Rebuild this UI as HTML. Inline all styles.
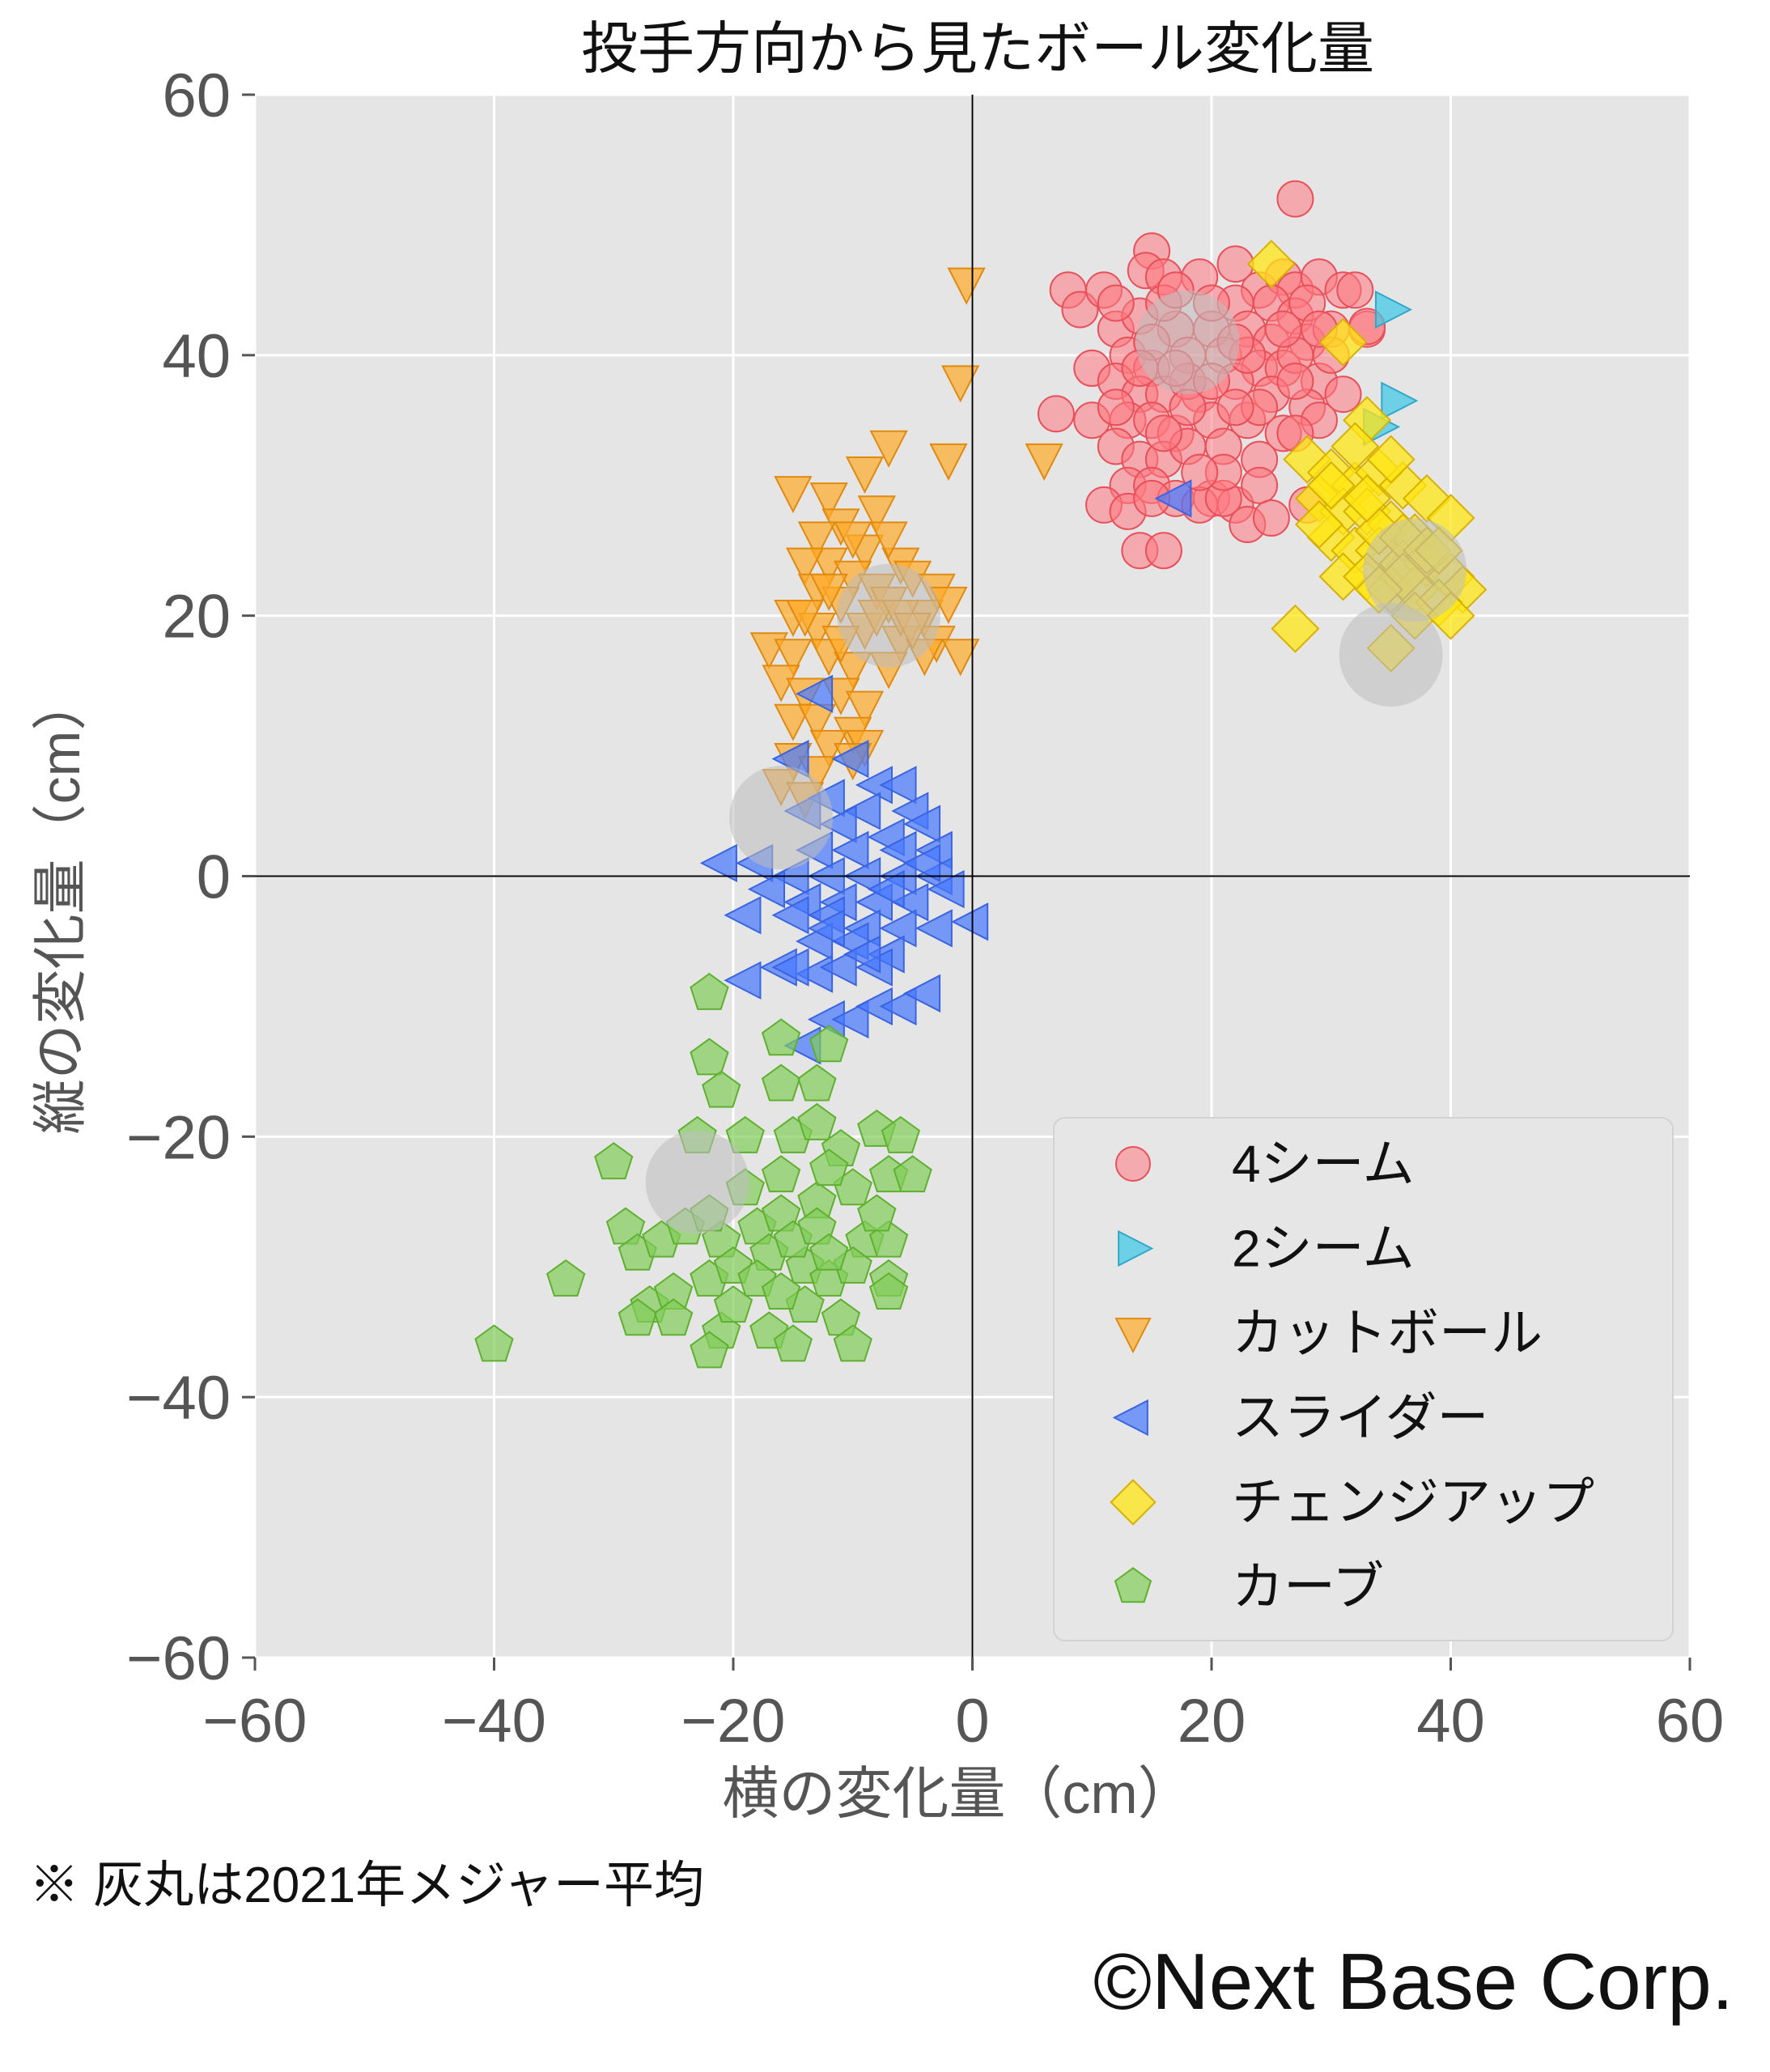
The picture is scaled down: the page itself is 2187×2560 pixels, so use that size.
<!DOCTYPE html>
<html><head><meta charset="utf-8">
<style>
body{margin:0;background:#fff;}
svg{display:block;}
</style></head>
<body>
<svg id="chart" width="2187" height="2560" viewBox="0 0 2187 2560" xmlns="http://www.w3.org/2000/svg" font-family="'Liberation Sans','Noto Sans CJK JP',sans-serif">
<rect width="2187" height="2560" fill="#fff"/>
<rect x="315" y="117" width="1773" height="1931" fill="#e5e5e5"/>
<g id="grid"></g>
<g id="ticks"></g>
<g id="avg"></g>
<g id="marks"></g>
<g id="zero"></g>
<text x="1208" y="84" font-size="70" text-anchor="middle" fill="#111">投手方向から見たボール変化量</text>
<text x="1184" y="2240" font-size="70" text-anchor="middle" fill="#555">横の変化量（cm）</text>
<text transform="translate(98,1118) rotate(-90)" font-size="68" text-anchor="middle" fill="#555">縦の変化量（cm）</text>
<g id="legend">
<rect x="1302" y="1381" width="765" height="646" rx="14" fill="#e6e6e6" stroke="#d2d2d2" stroke-width="2"/>
</g>
<text x="36" y="2350" font-size="62" fill="#111">※ 灰丸は2021年メジャー平均</text>
<text x="2142" y="2482" font-size="98" text-anchor="end" fill="#111">©Next Base Corp.</text>
</svg>
<script>
const xTicks=[-60,-40,-20,0,20,40,60];
const yTicks=[-60,-40,-20,0,20,40,60];
const seriesNames=["4シーム","2シーム","カットボール","スライダー","チェンジアップ","カーブ"];
const fourSeamX=[27,8,9,11,15,14.5,16,19,22,24,26,27,29,31,32,33,22,25,27,12,14,17,20,23,25,28,30,10,13,15,18,21,24,26,29,12,14,16,19,22,25,28,7,10,13,15,17,20,23,26,29,12,14,16,18,21,24,27,13,15,17,20,22,24,11,13,15,19,21,23,25,28,14,16,21,19,12,30,31,27,18,23,26,28,20,16,18,15,17,24,22,27,29,33,16,20,22,14,17,12];
const fourSeamY=[52,45,43.5,45,48,46.5,46,46,47,45,46,45,46,45,45,42,44,44,43,42,43,42,42,42,41,41,42,39,40,39,40,40,39,39,38,38,37,37,37,38,37,36,35.5,35,35,35,34,35,35,34,35,33,32,32,33,33,32,34,30,30,29,29,28.5,30,28.5,28,29,28.5,29,27,27.5,28.5,25,25,31,31,36,40,37,40,38,40,42,44,44,44,36,41,39,36,36,38,42,42.2,34,38,41,39,45,44];
const twoSeamX=[35,35.5,34];
const twoSeamY=[43.5,36.5,34.5];
const cutterX=[-0.5,-1,-2,6,-7,-9,-15,-12,-11,-13,-8,-6,-9,-12,-14,-10,-8,-5,-3,-13,-11,-7,-4,-2,-15,-13,-9,-6,-3,-1,-17,-15,-12,-10,-7,-16,-14,-11,-9,-15,-13,-10,-12,-15,-13,-16,-14,-9,-10,-11,-8,-6,-4,-5,-14,-12,-10,-7];
const cutterY=[45.5,38,32,32,33,31,29.5,29,27,26,28,24,25,24,24,23,22,23,22,22,21,21,20,21,20,19,19,18,18,17,17.5,17,17,16,16,15,14,14,13,12,12,11,10,9,8,7,6,10,9,18,20,20,17,19,20,22,26,26];
const sliderX=[-10,-15,-8,-6,-12,-14,-9,-5,-4,-11,-7,-13,-10,-6,-3,-21,-18,-15,-12,-9,-6,-3,-17,-14,-11,-8,-5,-2,-19,-15,-12,-9,-6,-3,0,-13,-10,-7,-16,-13,-11,-8,-19,-15,-12,-10,-8,-6,-4,-14,-12,-9,-7,-4,-13,17];
const sliderY=[9,9,7,7,6,5,5,5,4,4,3,2,2,2,2,1,1,0,0,0,0,0,-1,-2,-2,-2,-2,-1,-3,-3,-3,-4,-4,-4,-3.5,-5,-5,-6,-7,-7.5,-7,-7,-8,-7,-11,-11,-10,-10,-9,-13,-4,-6,-1,1,14,29];
const changeupX=[25,31,33,28,30,32,34,36,38,29,31,33,35,37,40,30,32,34,36,38,40,31,33,35,37,41,39,27,35,37,40,34,36,29,32,35,38,36,30,33,39,34];
const changeupY=[47,41,35,32,31,30,31,30,29,29,28,28,27,26,27.5,26,25,25,24,24,23,23,23,22,22,22,21,19,17.5,20,20,26.5,26,27,33,32,25,23,30,29,25,22];
const curveX=[-22,-22,-21,-16,-16,-12,-13,-30,-23,-19,-15,-13,-11,-8,-6,-29,-28,-26,-24,-21,-18,-16,-13,-10,-7,-5,-34,-27,-25,-22,-20,-17,-14,-12,-9,-7,-40,-28,-25,-21,-17,-14,-11,-7,-7,-22,-15,-10,-19,-16,-12,-22,-18,-15,-13,-10,-20,-12,-16,-8];
const curveY=[-9,-14,-16.5,-12.5,-16,-13,-16,-22,-20,-20,-20,-19,-21,-19.5,-20,-27,-29,-28,-27,-28,-27,-26,-25,-24,-23,-23,-31,-33,-32,-31,-30,-29,-30,-31,-28,-28,-36,-34,-34,-35,-35,-33,-34,-31,-32,-36.5,-36,-36,-24,-23,-22.5,-26,-31,-28,-27,-30,-33,-29,-32,-26];
const avgX=[18,-7,-16,37,35,-23];
const avgY=[41,20,4.5,23.5,17,-23.5];

const NS="http://www.w3.org/2000/svg";
const L=315,R=2088,T=117,B=2048;
function sx(v){return L+(v+60)/120*(R-L);}
function sy(v){return B-(v+60)/120*(B-T);}
function mk(tag,attrs,parent){const e=document.createElementNS(NS,tag);for(const k in attrs)e.setAttribute(k,attrs[k]);parent.appendChild(e);return e;}
const grid=document.getElementById('grid'),ticks=document.getElementById('ticks');
xTicks.forEach(v=>{
  const g=mk('line',{x1:sx(v),x2:sx(v),y1:T,y2:B,stroke:'#fff','stroke-width':3},grid);
  
  
  const t=mk('line',{x1:sx(v),x2:sx(v),y1:B,y2:B+16,stroke:'#555','stroke-width':3},ticks);
  
  
  const tx=mk('text',{x:sx(v),y:2152,'font-size':76,'text-anchor':'middle',fill:'#555'},ticks);
  tx.textContent=(v<0?'−':'')+Math.abs(v);
  
  
});
yTicks.forEach(v=>{
  const g=mk('line',{x1:L,x2:R,y1:sy(v),y2:sy(v),stroke:'#fff','stroke-width':3},grid);
  
  
  const t=mk('line',{x1:L-16,x2:L,y1:sy(v),y2:sy(v),stroke:'#555','stroke-width':3},ticks);
  
  
  const tx=mk('text',{x:285,y:sy(v)+27,'font-size':76,'text-anchor':'end',fill:'#555'},ticks);
  tx.textContent=(v<0?'−':'')+Math.abs(v);
  
  
});
const zero=document.getElementById('zero');
let z1=mk('line',{x1:sx(0),x2:sx(0),y1:T,y2:B,stroke:'#000','stroke-width':2},zero);


let z2=mk('line',{x1:L,x2:R,y1:sy(0),y2:sy(0),stroke:'#000','stroke-width':2},zero);



const styles=[
 {shape:'circle',fill:'rgba(255,120,130,0.55)',stroke:'#e8505a'},
 {shape:'right',fill:'rgba(70,200,230,0.75)',stroke:'#30a8c8'},
 {shape:'down',fill:'rgba(255,170,40,0.7)',stroke:'#e08a10'},
 {shape:'left',fill:'rgba(70,120,255,0.7)',stroke:'#3a64e0'},
 {shape:'diamond',fill:'rgba(255,230,20,0.75)',stroke:'#d8b000'},
 {shape:'penta',fill:'rgba(130,205,90,0.7)',stroke:'#60b030'}];
function drawMarker(parent,shape,x,y,s,st){
  let e;
  if(shape==='circle') e=mk('circle',{cx:x,cy:y,r:s},parent);
  else{
    let pts=[];
    if(shape==='right') pts=[[-s*0.85,-s],[s*1.1,0],[-s*0.85,s]];
    if(shape==='left') pts=[[s*0.85,-s],[-s*1.1,0],[s*0.85,s]];
    if(shape==='down') pts=[[-s,-s*0.85],[s,-s*0.85],[0,s*1.1]];
    if(shape==='diamond') pts=[[0,-s*1.3],[s*1.3,0],[0,s*1.3],[-s*1.3,0]];
    if(shape==='penta'){for(let i=0;i<5;i++){const a=-Math.PI/2+i*2*Math.PI/5;pts.push([s*1.1*Math.cos(a),s*1.1*Math.sin(a)]);}}
    e=mk('polygon',{points:pts.map(p=>(x+p[0])+','+(y+p[1])).join(' ')},parent);
  }
  e.setAttribute('fill',st.fill);e.setAttribute('stroke',st.stroke);e.setAttribute('stroke-width',2);
  return e;
}
const series=[[fourSeamX,fourSeamY],[twoSeamX,twoSeamY],[cutterX,cutterY],[sliderX,sliderY],[changeupX,changeupY],[curveX,curveY]];
const marks=document.getElementById('marks');
const keys=['four-seam','two-seam','cutter','slider','changeup','curve'];
series.forEach((s,i)=>{
  const g=mk('g',{},marks);
  
  
  s[0].forEach((xv,j)=>{
    const e=drawMarker(g,styles[i].shape,sx(xv),sy(s[1][j]),22,styles[i]);
    
    
  });
});
avgX.forEach((xv,j)=>{
  const c=mk('circle',{cx:sx(xv),cy:sy(avgY[j]),r:64,fill:'rgba(190,190,190,0.55)'},document.getElementById('chart'));
  
  
});
const leg=document.getElementById('legend');
seriesNames.forEach((n,i)=>{
  const y=1438+i*104.5;
  const e=drawMarker(leg,styles[i].shape,1400,y,21,styles[i]);
  
  
  const t=mk('text',{x:1522,y:y+22,'font-size':64,fill:'#111'},leg);
  t.textContent=n;
  
  
});
</script>
</body></html>
